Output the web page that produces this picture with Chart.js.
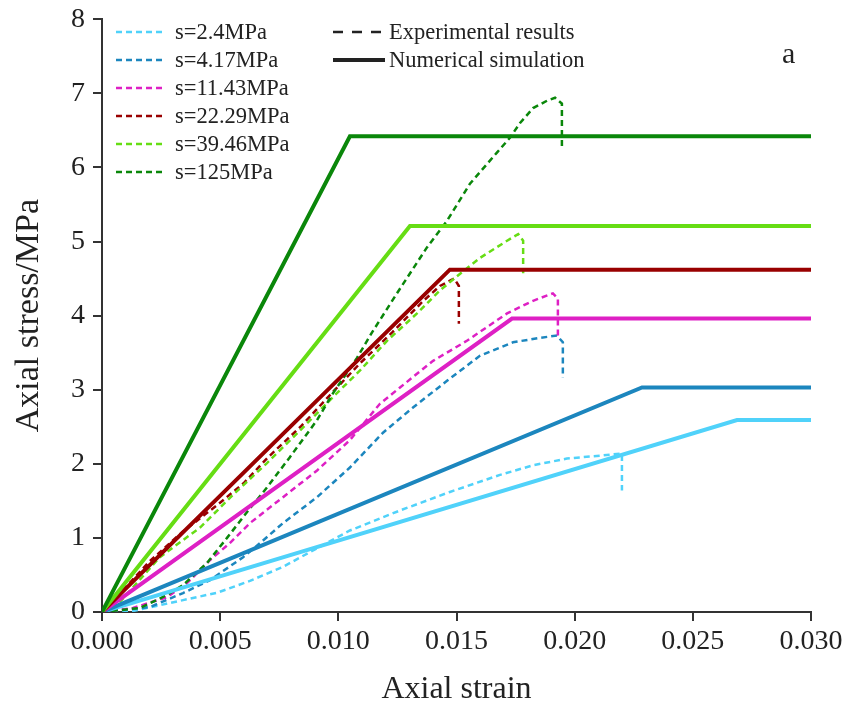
<!DOCTYPE html>
<html>
<head>
<meta charset="utf-8">
<script src="https://cdn.jsdelivr.net/npm/chart.js@4/dist/chart.umd.min.js"></script>
<style>
  html, body { margin: 0; padding: 0; background: #ffffff; }
  #wrap { width: 848px; height: 713px; position: relative; }
</style>
</head>
<body>
<div id="wrap"><canvas id="c" width="848" height="713"></canvas></div>
<script>
// ---------- data ----------
const seriesLabels = ['s=2.4MPa', 's=4.17MPa', 's=11.43MPa', 's=22.29MPa', 's=39.46MPa', 's=125MPa'];
const seriesColors = ['#50D2FA', '#1C86BE', '#DE20C4', '#990000', '#66DD14', '#0A870A'];

// Numerical simulation (elastic - perfectly plastic)
const simYieldStrain = [0.02687, 0.02285, 0.01735, 0.01472, 0.01303, 0.01049];
const simYieldStress = [2.59, 3.03, 3.96, 4.62, 5.21, 6.42];
const strainEnd = 0.030;

// Experimental results
const exp2_4Strain  = [0, 0.00131, 0.00343, 0.00487, 0.00626, 0.00766, 0.00910, 0.01049, 0.01261, 0.01472, 0.01684, 0.01824, 0.01967, 0.02107, 0.02200, 0.02200];
const exp2_4Stress  = [0, 0.013, 0.16, 0.26, 0.42, 0.61, 0.86, 1.10, 1.37, 1.62, 1.85, 1.98, 2.07, 2.11, 2.14, 1.64];

const exp4_17Strain = [0, 0.00203, 0.00343, 0.00457, 0.00597, 0.00669, 0.00766, 0.00910, 0.01049, 0.01189, 0.01316, 0.01460, 0.01600, 0.01739, 0.01853, 0.01925, 0.01950, 0.01950];
const exp4_17Stress = [0, 0.067, 0.256, 0.43, 0.74, 0.93, 1.20, 1.55, 1.95, 2.42, 2.76, 3.12, 3.46, 3.64, 3.70, 3.73, 3.64, 3.16];

const exp11_43Strain = [0, 0.00131, 0.00275, 0.00360, 0.00457, 0.00541, 0.00626, 0.00766, 0.00910, 0.01049, 0.01176, 0.01261, 0.01401, 0.01544, 0.01714, 0.01824, 0.01908, 0.01929, 0.01929];
const exp11_43Stress = [0, 0.054, 0.20, 0.39, 0.70, 0.93, 1.20, 1.55, 1.91, 2.32, 2.81, 3.03, 3.39, 3.66, 4.03, 4.20, 4.30, 4.23, 3.70];

const exp22_29Strain = [0, 0.00076, 0.0020, 0.0034, 0.0049, 0.0060, 0.0070, 0.0084, 0.0098, 0.0109, 0.0123, 0.0136, 0.0143, 0.0149, 0.0151, 0.0151];
const exp22_29Stress = [0, 0.25, 0.68, 1.08, 1.45, 1.74, 2.08, 2.50, 2.98, 3.35, 3.78, 4.20, 4.40, 4.50, 4.40, 3.89];

const exp39_46Strain = [0, 0.0008, 0.00245, 0.00415, 0.00554, 0.00698, 0.00838, 0.00977, 0.01092, 0.01206, 0.01333, 0.01430, 0.01502, 0.01600, 0.01714, 0.01761, 0.01782, 0.01782];
const exp39_46Stress = [0, 0.15, 0.74, 1.14, 1.58, 2.01, 2.45, 2.90, 3.26, 3.66, 4.03, 4.34, 4.53, 4.78, 5.01, 5.10, 5.01, 4.57];

const exp125Strain = [0, 0.00161, 0.00275, 0.00343, 0.00444, 0.00529, 0.00614, 0.00698, 0.00795, 0.00910, 0.00977, 0.01079, 0.01142, 0.01248, 0.01375, 0.01460, 0.01557, 0.01671, 0.01726, 0.01769, 0.01824, 0.01883, 0.01917, 0.01946, 0.01946];
const exp125Stress = [0, 0.054, 0.229, 0.364, 0.66, 1.00, 1.35, 1.68, 2.09, 2.59, 2.95, 3.43, 3.77, 4.30, 4.92, 5.28, 5.78, 6.20, 6.40, 6.60, 6.80, 6.90, 6.94, 6.86, 6.29];

const expStrain = [exp2_4Strain, exp4_17Strain, exp11_43Strain, exp22_29Strain, exp39_46Strain, exp125Strain];
const expStress = [exp2_4Stress, exp4_17Stress, exp11_43Stress, exp22_29Stress, exp39_46Stress, exp125Stress];

const xTickValues = [0, 0.005, 0.010, 0.015, 0.020, 0.025, 0.030];
const yTickValues = [0, 1, 2, 3, 4, 5, 6, 7, 8];
const legendTypeLabels = ['Experimental results', 'Numerical simulation'];
const panelLabel = 'a';

// ---------- datasets ----------
const FONT = "'Liberation Serif', 'Times New Roman', serif";
const datasets = [];
// solid lines first (drawn on top)
for (let i = seriesLabels.length - 1; i >= 0; i--) {
  datasets.push({
    label: seriesLabels[i] + ' sim',
    data: [{x: 0, y: 0}, {x: simYieldStrain[i], y: simYieldStress[i]}, {x: strainEnd, y: simYieldStress[i]}],
    borderColor: seriesColors[i],
    borderWidth: 4,
    showLine: true,
    pointRadius: 0,
    tension: 0,
    fill: false,
    borderJoinStyle: 'miter'
  });
}
for (let i = seriesLabels.length - 1; i >= 0; i--) {
  datasets.push({
    label: seriesLabels[i],
    data: expStrain[i].map((x, k) => ({x: x, y: expStress[i][k]})),
    borderColor: seriesColors[i],
    borderWidth: 2.5,
    borderDash: [6, 4],
    showLine: true,
    pointRadius: 0,
    tension: 0,
    fill: false
  });
}

// ---------- custom legend ----------
const legendPlugin = {
  id: 'customLegend',
  afterDraw(chart) {
    const ctx = chart.ctx;
    ctx.save();
    ctx.font = "22.5px " + FONT;
    ctx.textBaseline = 'middle';
    ctx.fillStyle = '#222';
    const x0 = 116, rowH = 28, y0 = 32;
    seriesLabels.forEach((lab, i) => {
      const y = y0 + i * rowH;
      ctx.strokeStyle = seriesColors[i];
      ctx.lineWidth = 2.5;
      ctx.setLineDash([6, 4]);
      ctx.beginPath(); ctx.moveTo(x0, y); ctx.lineTo(x0 + 50, y); ctx.stroke();
      ctx.fillText(lab, x0 + 59, y + 1);
    });
    const x1 = 333;
    ctx.strokeStyle = '#222';
    ctx.lineWidth = 2.5;
    ctx.setLineDash([10, 9]);
    ctx.beginPath(); ctx.moveTo(x1, y0); ctx.lineTo(x1 + 52, y0); ctx.stroke();
    ctx.fillText(legendTypeLabels[0], x1 + 56, y0 + 1);
    ctx.setLineDash([]);
    ctx.lineWidth = 4;
    ctx.beginPath(); ctx.moveTo(x1, y0 + rowH); ctx.lineTo(x1 + 52, y0 + rowH); ctx.stroke();
    ctx.fillText(legendTypeLabels[1], x1 + 56, y0 + rowH + 1);
    ctx.font = "30px " + FONT;
    ctx.fillText(panelLabel, 782, 55);
    ctx.restore();
  }
};

new Chart(document.getElementById('c'), {
  type: 'scatter',
  data: { datasets: datasets },
  plugins: [legendPlugin],
  options: {
    responsive: false,
    animation: false,
    devicePixelRatio: 1,
    layout: { padding: { top: 18, right: 37, left: 0, bottom: 0 } },
    plugins: { legend: { display: false }, tooltip: { enabled: false } },
    scales: {
      x: {
        type: 'linear',
        min: 0, max: 0.030,
        afterBuildTicks(scale) { scale.ticks = xTickValues.map(v => ({value: v})); },
        afterFit(scale) { scale.height = 101; },
        ticks: {
          color: '#222',
          font: { family: FONT, size: 28 },
          padding: 4,
          maxRotation: 0,
          callback: v => Number(v).toFixed(3)
        },
        grid: { display: true, drawOnChartArea: false, drawTicks: true, tickLength: 9, color: '#333', lineWidth: 2 },
        border: { display: true, color: '#333', width: 2 },
        title: { display: true, text: 'Axial strain', color: '#222', font: { family: FONT, size: 32 }, padding: { top: 0, bottom: 4 } }
      },
      y: {
        type: 'linear',
        min: 0, max: 8,
        afterBuildTicks(scale) { scale.ticks = yTickValues.map(v => ({value: v})); },
        afterFit(scale) { scale.width = 102; },
        ticks: {
          color: '#222',
          font: { family: FONT, size: 28, lineHeight: 0.8 },
          padding: 8,
          callback: v => String(v)
        },
        grid: { display: true, drawOnChartArea: false, drawTicks: true, tickLength: 9, color: '#333', lineWidth: 2 },
        border: { display: true, color: '#333', width: 2 },
        title: { display: true, text: 'Axial stress/MPa', color: '#222', font: { family: FONT, size: 34 }, padding: { top: 9, bottom: 0 } }
      }
    }
  }
});
</script>
</body>
</html>
